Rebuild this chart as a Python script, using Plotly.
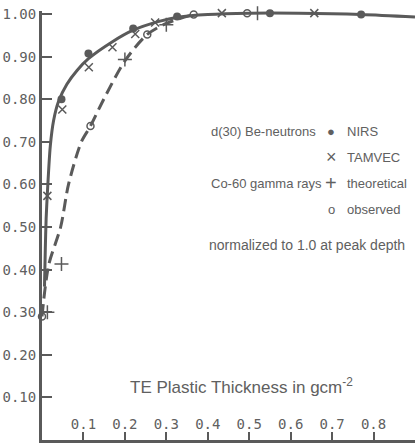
import plotly.graph_objects as go

# ---- data ----
nirs_x = [0.047, 0.112, 0.22, 0.326, 0.55, 0.77]
nirs_y = [0.80, 0.907, 0.966, 0.994, 1.002, 0.999]

tamvec_x = [0.013, 0.049, 0.113, 0.17, 0.225, 0.273, 0.434, 0.657]
tamvec_y = [0.573, 0.776, 0.875, 0.922, 0.953, 0.98, 1.002, 1.002]

theo_x = [0.013, 0.047, 0.20, 0.30, 0.52]
theo_y = [0.30, 0.413, 0.893, 0.975, 1.002]

obs_x = [0.0, 0.117, 0.254, 0.366, 0.495]
obs_y = [0.29, 0.737, 0.952, 0.999, 1.002]

# fitted curves as drawn on the original
neut_curve_x = [0.006, 0.008, 0.010, 0.013, 0.020, 0.028, 0.040, 0.060, 0.085, 0.112, 0.17, 0.22, 0.28, 0.33, 0.40, 0.50, 0.62, 0.77, 0.90]
neut_curve_y = [0.36, 0.45, 0.52, 0.58, 0.69, 0.75, 0.795, 0.835, 0.868, 0.895, 0.935, 0.962, 0.982, 0.993, 0.999, 1.002, 1.002, 0.999, 0.993]

gamma_curve_x = [0.0, 0.016, 0.045, 0.064, 0.095, 0.117, 0.149, 0.20, 0.254, 0.30, 0.366]
gamma_curve_y = [0.29, 0.41, 0.50, 0.60, 0.70, 0.737, 0.80, 0.89, 0.952, 0.978, 0.999]

x_ticks = [0.1, 0.2, 0.3, 0.4, 0.5, 0.6, 0.7, 0.8]
y_ticks = [0.1, 0.2, 0.3, 0.4, 0.5, 0.6, 0.7, 0.8, 0.9, 1.0]

INK = "#5a5a5a"
TXT = "#606060"

fig = go.Figure()
fig.add_trace(go.Scatter(x=neut_curve_x, y=neut_curve_y, mode="lines",
                         line=dict(color=INK, width=3, shape="spline", smoothing=0.8),
                         cliponaxis=False, hoverinfo="skip"))
fig.add_trace(go.Scatter(x=gamma_curve_x, y=gamma_curve_y, mode="lines",
                         line=dict(color=INK, width=3, dash="12px,6px", shape="spline", smoothing=0.8),
                         cliponaxis=False, hoverinfo="skip"))
fig.add_trace(go.Scatter(x=nirs_x, y=nirs_y, mode="markers", cliponaxis=False,
                         marker=dict(symbol="circle", size=8, color=INK)))
fig.add_trace(go.Scatter(x=tamvec_x, y=tamvec_y, mode="markers", cliponaxis=False,
                         marker=dict(symbol="x-thin-open", size=8, color=INK, line=dict(width=1.5, color=INK))))
fig.add_trace(go.Scatter(x=theo_x, y=theo_y, mode="markers", cliponaxis=False,
                         marker=dict(symbol="cross-thin-open", size=10, color=INK, line=dict(width=1.5, color=INK))))
fig.add_trace(go.Scatter(x=obs_x, y=obs_y, mode="markers", cliponaxis=False,
                         marker=dict(symbol="circle-open", size=7, color=INK, line=dict(width=1.5, color=INK))))

ann = []
def t(x, y, text, anchor="left", size=13):
    ann.append(dict(xref="paper", yref="paper", x=x, y=y, text=text, showarrow=False,
                    xanchor=anchor, yanchor="middle",
                    font=dict(family="Liberation Sans, Arial, sans-serif", size=size, color=TXT)))

W, H = 416, 444
L, R, T, B = 42, 1, 11, 4
pw, ph = W - L - R, H - T - B
def px(xp): return (xp - L) / pw
def py(yp): return (H - B - yp) / ph

t(px(209), py(131), "d(30) Be-neutrons")
t(px(331), py(131), "●", "center", 13)
t(px(345), py(131), "NIRS")
t(px(331), py(157), "×", "center", 18)
t(px(345), py(157), "TAMVEC")
t(px(209), py(183), "Co-60 gamma rays")
t(px(331), py(183), "+", "center", 20)
t(px(345), py(183), "theoretical")
t(px(331), py(209), "o", "center", 13)
t(px(345), py(209), "observed")
t(px(207), py(245), "normalized to 1.0 at peak depth", "left", 14)
t(px(128), py(386), "TE Plastic Thickness in gcm<sup>-2</sup>", "left", 17)

fig.update_layout(
    width=W, height=H, margin=dict(l=L, r=R, t=T, b=B),
    paper_bgcolor="white", plot_bgcolor="white", showlegend=False,
    annotations=ann,
    xaxis=dict(range=[0, 0.9], tickvals=x_ticks, ticktext=[f"{v:.1f}" for v in x_ticks],
               showline=True, linecolor=INK, linewidth=3, ticks="inside", ticklen=8,
               tickwidth=1.5, tickcolor=INK, ticklabelposition="inside", showgrid=False, zeroline=False,
               tickfont=dict(family="DejaVu Sans Mono, monospace", size=14, color=TXT)),
    yaxis=dict(range=[0, 429 / 426], tickvals=y_ticks, ticktext=[f"{v:.2f}" for v in y_ticks],
               showline=True, linecolor=INK, linewidth=3, ticks="inside", ticklen=10,
               tickwidth=1.5, tickcolor=INK, showgrid=False, zeroline=False,
               tickfont=dict(family="DejaVu Sans Mono, monospace", size=14, color=TXT)),
)

fig.write_html("out.html")
